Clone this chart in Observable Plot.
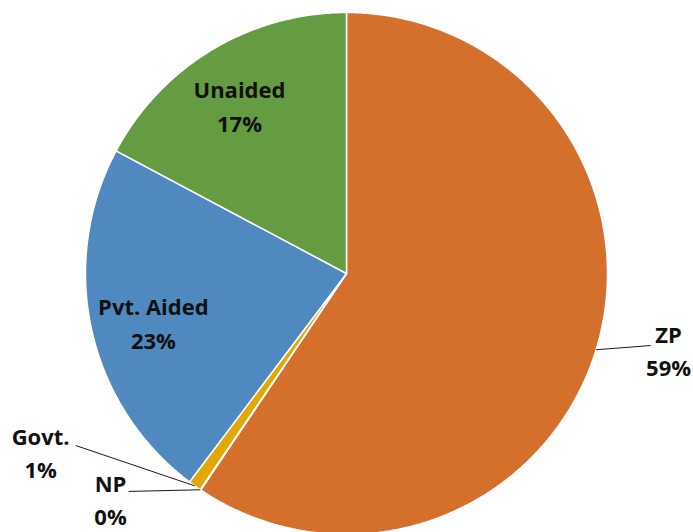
<!DOCTYPE html>
<html>
<head>
<meta charset="utf-8">
<script src="https://cdn.jsdelivr.net/npm/d3@7"></script>
<script src="https://cdn.jsdelivr.net/npm/@observablehq/plot@0.6"></script>
<style>
  html, body { margin: 0; padding: 0; background: #fff; }
  #chart { width: 693px; height: 532px; overflow: hidden; }
</style>
</head>
<body>
<div id="chart"></div>
<script>
// ---- data ----
const names = ["ZP", "NP", "Govt.", "Pvt. Aided", "Unaided"];
const values = [59.4, 0.04, 0.8, 22.5, 17.2];
const colors = ["#D4702B", "#A5A5A5", "#E3A800", "#5089C0", "#659B41"];

// ---- layout (not data) ----
const W = 693, H = 532, CX = 346, CY = 273, R = 261;
// label placements in unit-radius coordinates
const inner = {
  "Unaided":    {lx: -0.41, ly: 0.65},
  "Pvt. Aided": {lx: -0.74, ly: -0.183}
};
const outside = {
  "ZP":    {lx: 1.234, ly: -0.29, ex: 1.165, ey: -0.276},
  "Govt.": {lx: -1.172, ly: -0.68, ex: -1.038, ey: -0.659},
  "NP":    {lx: -0.904, ly: -0.86, ex: -0.835, ey: -0.835}
};

const total = d3.sum(values);
let acc = 0;
const slices = names.map((n, i) => {
  const a0 = acc / total * 2 * Math.PI;
  acc += values[i];
  const a1 = acc / total * 2 * Math.PI;
  return {name: n, value: values[i], color: colors[i], a0, a1, mid: (a0 + a1) / 2,
          label: n + "\n" + Math.round(values[i] / total * 100) + "%"};
});

// polygon points for each slice
const pts = [];
for (const s of slices) {
  pts.push({name: s.name, x: 0, y: 0});
  const n = Math.max(2, Math.ceil((s.a1 - s.a0) / (Math.PI / 360)));
  for (let k = 0; k <= n; k++) {
    const a = s.a0 + (s.a1 - s.a0) * k / n;
    pts.push({name: s.name, x: Math.sin(a), y: Math.cos(a)});
  }
  pts.push({name: s.name, x: 0, y: 0});
}

const inside = slices.filter(s => inner[s.name]).map(s => ({
  label: s.label, x: inner[s.name].lx, y: inner[s.name].ly
}));
const outLabels = slices.filter(s => outside[s.name]).map(s => {
  const o = outside[s.name];
  return {label: s.label, x: o.lx, y: o.ly,
          x1: Math.sin(s.mid), y1: Math.cos(s.mid), x2: o.ex, y2: o.ey};
});

const font = "'Open Sans', Lato, sans-serif";
const chart = Plot.plot({
  width: W, height: H,
  margin: 0,
  x: {domain: [-1, 1], range: [CX - R, CX + R], axis: null},
  y: {domain: [-1, 1], range: [CY + R, CY - R], axis: null},
  color: {domain: names, range: colors},
  style: {background: "#fff", fontFamily: font},
  marks: [
    Plot.line(pts, {x: "x", y: "y", z: "name", fill: "name", stroke: "#fff", strokeWidth: 1.5, strokeLinejoin: "round", curve: "linear"}),
    Plot.link(outLabels, {x1: "x1", y1: "y1", x2: "x2", y2: "y2", stroke: "#1a1a1a", strokeWidth: 1}),
    Plot.text(inside, {x: "x", y: "y", text: "label", fontSize: 22, fontWeight: "bold", fill: "#111", lineHeight: 1.55}),
    Plot.text(outLabels, {x: "x", y: "y", text: "label", fontSize: 22, fontWeight: "bold", fill: "#111", lineHeight: 1.5})
  ]
});
document.getElementById("chart").appendChild(chart);
</script>
</body>
</html>
